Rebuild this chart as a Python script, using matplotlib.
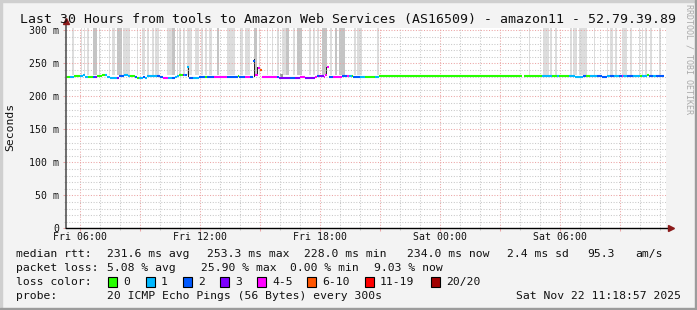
import numpy as np
import matplotlib.pyplot as plt
from matplotlib.patches import Rectangle
from matplotlib.ticker import MultipleLocator, FuncFormatter

plt.rcParams['font.family'] = 'DejaVu Sans Mono'

W, H = 697, 310
title = "Last 30 Hours from tools to Amazon Web Services (AS16509) - amazon11 - 52.79.39.89"

# hours counted from Fri 00:00
t_start = 5.316
t_end = 35.316

loss_labels = ["0", "1", "2", "3", "4-5", "6-10", "11-19", "20/20"]
loss_colors = ["#26ff00", "#00b8ff", "#0059ff", "#7e00ff", "#ff00ff",
               "#ff5500", "#ff0000", "#a10000"]

# median rtt: step start (h), value (ms), loss bucket
med_t = [5.32, 5.52, 5.72, 6.02, 6.18, 6.28, 6.43, 6.68, 6.76, 6.85, 7.10, 7.27,
         7.38, 7.52, 7.88, 7.98, 8.23, 8.43, 8.52, 8.77, 8.85, 8.98, 9.15, 9.27,
         9.35, 9.85, 10.02, 10.18, 10.43, 10.60, 10.77, 10.85, 10.98, 11.15, 11.20,
         11.25, 11.38, 11.48, 11.68, 11.98, 12.05, 12.27, 12.35, 12.72, 13.35, 13.93,
         13.98, 14.27, 14.52, 14.68, 14.77, 14.90, 15.03, 15.12, 15.85, 15.98, 16.52,
         16.77, 17.02, 17.27, 17.77, 17.88, 17.98, 18.22, 18.27, 18.35, 18.47, 18.68,
         19.10, 19.35, 19.48, 19.60, 19.68, 20.02, 20.27, 20.60, 20.77, 20.98, 28.10,
         28.23, 29.10, 29.60, 29.85, 29.98, 30.27, 30.48, 30.60, 30.77, 31.18, 31.32,
         31.52, 31.85, 32.10, 32.35, 32.52, 32.72, 32.98, 33.10, 33.18, 33.38, 33.68,
         34.02, 34.10, 34.35, 34.48, 34.68, 34.82]
med_ms = [230, 230, 231, 231, 233, 230, 230, 230, 230, 231.5, 233, 232,
          230, 227.5, 227.5, 231, 232.5, 231, 231, 230, 228, 228, 230, 228,
          231, 230.5, 229, 228, 228, 228, 228.5, 231, 233, 233, 232,
          232, 244, 227.5, 227.5, 228.5, 229.5, 229.5, 229.5, 228.5, 230, 230.5,
          229, 229, 229, 253.3, 232, 243.5, 240, 229, 228.5, 227.5, 227.5,
          227.5, 228.5, 227.5, 228.5, 230.5, 230.5, 229, 233, 244, 229.5, 229.5,
          231, 231, 231, 231, 228.5, 228.5, 228.5, 229.5, 229.5, 230.5, np.nan,
          230.5, 230.5, 230.5, 230.5, 230.5, 231, 230.5, 231.5, 230, 230.5, 230.5,
          230.5, 231.5, 230, 230.5, 231.5, 231, 231, 231, 231, 231, 231,
          231.5, 231, 233, 231, 231, 231]
med_loss = [0, 1, 0, 1, 1, 1, 0, 2, 3, 0, 0, 1,
            1, 1, 3, 2, 1, 1, 0, 2, 0, 1, 2, 1,
            1, 2, 2, 4, 1, 2, 1, 1, 0, 3, 1,
            2, 1, 2, 1, 2, 2, 0, 2, 4, 2, 0,
            2, 4, 2, 2, 4, 4, 5, 4, 2, 3, 2,
            3, 4, 3, 4, 2, 3, 4, 4, 4, 2, 4,
            2, 4, 1, 0, 2, 1, 0, 0, 1, 0, 0,
            0, 1, 0, 1, 0, 0, 1, 1, 1, 2, 0,
            1, 2, 2, 1, 2, 1, 2, 4, 1, 2, 1,
            0, 1, 0, 2, 1, 2]
med_stop = 35.22

# smoke bands (h): start, end, shade level (0 light, 1 mid)
smoke_start = [5.62, 6.07, 6.22, 6.35, 6.67, 6.98, 7.45, 7.60, 7.85, 8.17, 8.85, 9.10,
               9.35, 9.62, 9.77, 10.35, 10.60, 10.85, 10.98, 11.17, 11.37, 11.77, 12.05,
               12.27, 12.47, 12.85, 13.35, 14.02, 14.27, 14.72, 14.95, 15.35, 15.63, 15.85,
               16.10, 16.30, 16.65, 16.85, 17.48, 17.65, 17.88, 18.10, 18.52, 18.77, 18.98,
               19.73, 19.88, 20.85, 28.47, 29.17, 29.52, 29.77, 30.52, 30.68, 30.98, 31.27,
               31.73, 32.35, 32.52, 32.78, 33.10, 33.52, 33.97, 34.10, 34.28, 34.52, 34.95]
smoke_end = [5.72, 6.12, 6.27, 6.47, 6.85, 7.03, 7.50, 7.77, 8.10, 8.52, 8.90, 9.27,
             9.47, 9.72, 9.97, 10.60, 10.77, 10.90, 11.07, 11.27, 11.62, 11.97, 12.15,
             12.35, 12.60, 12.98, 13.77, 14.15, 14.52, 14.88, 15.02, 15.40, 15.68, 15.97,
             16.30, 16.48, 16.77, 17.10, 17.57, 17.77, 17.98, 18.38, 18.62, 18.88, 19.27,
             19.82, 20.10, 20.95, 28.52, 29.48, 29.60, 29.85, 30.60, 30.85, 31.25, 31.35,
             31.78, 32.43, 32.65, 32.85, 33.35, 33.60, 34.02, 34.15, 34.38, 34.60, 35.08]
smoke_level = [0, 0, 0, 0, 1, 0, 0, 0, 1, 0, 0, 0,
               0, 0, 0, 0, 1, 0, 0, 0, 0, 0, 0,
               0, 0, 1, 0, 0, 0, 1, 0, 0, 0, 0,
               0, 1, 0, 1, 0, 0, 0, 1, 0, 1, 1,
               0, 0, 0, 0, 0, 0, 0, 0, 0, 0, 0,
               0, 0, 0, 0, 0, 0, 0, 0, 0, 0, 0]
smoke_floor = 232
smoke_ceil = 400

# dense smoke around the spikes: start, end, low ms, high ms
dense_start = [11.40, 14.70, 14.88, 15.10, 16.00, 18.30, 18.45]
dense_end = [11.46, 14.76, 14.92, 15.14, 16.17, 18.35, 18.49]
dense_lo = [230, 230, 231, 229, 228, 231, 229]
dense_hi = [244, 256, 244, 241, 234, 245, 244]
dense_col = ["#262626", "#262626", "#262626", "#262626", "#9a9a9a", "#262626", "#262626"]

shade_colors = ["#dddddd", "#c4c4c4"]

legend_rows = [
    [(16, "median rtt:"), (107, "231.6 ms avg"), (207, "253.3 ms max"), (304, "228.0 ms min"),
     (407, "234.0 ms now"), (507, "2.4 ms sd"), (587, "95.3"), (635, "am/s")],
    [(16, "packet loss:"), (107, "5.08 % avg"), (201, "25.90 % max"), (290, "0.00 % min"),
     (374, "9.03 % now")],
]
box_x = [108, 146, 183, 220, 257, 307, 365, 431]
probe_text = "20 ICMP Echo Pings (56 Bytes) every 300s"
stamp = "Sat Nov 22 11:18:57 2025"
fs_leg = 8.2

fig = plt.figure(figsize=(W / 100, H / 100), dpi=100)
fig.patch.set_facecolor("#f3f3f3")


def fx(px):
    return px / W


def fy(py):
    return 1 - py / H


ax = fig.add_axes([fx(66), fy(228.3), 600 / W, 200.3 / H])
ax.set_facecolor("white")
ax.set_xlim(t_start, t_end)
ax.set_ylim(0, 303.5)

for s, e, lv in zip(smoke_start, smoke_end, smoke_level):
    ax.bar(s, smoke_ceil - smoke_floor, width=e - s, bottom=smoke_floor, align="edge",
           color=shade_colors[lv], linewidth=0, zorder=1)
for s, e, lo, hi, c in zip(dense_start, dense_end, dense_lo, dense_hi, dense_col):
    ax.bar(s, hi - lo, width=e - s, bottom=lo, align="edge", color=c, linewidth=0, zorder=1.5)

ends = med_t[1:] + [med_stop]
xs, xe, ys, cs = [], [], [], []
for s, e, v, l in zip(med_t, ends, med_ms, med_loss):
    if np.isnan(v):
        continue
    xs.append(s)
    xe.append(e)
    ys.append(v)
    cs.append(loss_colors[l])
ax.hlines(ys, xs, xe, colors=cs, linewidth=1.5, zorder=3, capstyle="butt")

# grid
ax.xaxis.set_major_locator(MultipleLocator(3))
ax.xaxis.set_minor_locator(MultipleLocator(1))
ax.yaxis.set_major_locator(MultipleLocator(50))
ax.yaxis.set_minor_locator(MultipleLocator(10))
ax.set_axisbelow(False)
ax.grid(which="major", color="#eba4a4", linestyle=(0, (1, 1.6)), linewidth=0.75)
ax.grid(which="minor", color="#c8c8c8", linestyle=(0, (1, 1.6)), linewidth=0.75)


def xlab(v, pos):
    h = int(round(v))
    if h % 6:
        return ""
    day = "Fri" if h < 24 else "Sat"
    return f"{day} {h % 24:02d}:00"


def ylab(v, pos):
    return "0" if v == 0 else f"{int(v)} m"


ax.xaxis.set_major_formatter(FuncFormatter(xlab))
ax.yaxis.set_major_formatter(FuncFormatter(ylab))
ax.tick_params(which="major", length=2.2, width=0.75, color="#eba4a4", labelsize=7.1,
               labelcolor="#111111")
ax.tick_params(which="minor", length=1.5, width=0.75, color="#c8c8c8")
ax.tick_params(axis="x", which="major", pad=0.8)
ax.tick_params(axis="y", which="major", pad=2.5)

for sp in ax.spines.values():
    sp.set_visible(False)
ax.plot([0, 0], [0, 1.035], transform=ax.transAxes, color="#555555", lw=1.2,
        clip_on=False, zorder=5)
ax.plot([0, 1.008], [0, 0], transform=ax.transAxes, color="black", lw=1.0,
        clip_on=False, zorder=5)
ax.plot([0], [1.035], transform=ax.transAxes, marker="^", color="#8b1a1a", ms=5,
        clip_on=False, zorder=6)
ax.plot([1.008], [0], transform=ax.transAxes, marker=">", color="#8b1a1a", ms=5,
        clip_on=False, zorder=6)

fig.text(fx(347.5), fy(20), title, ha="center", va="center", fontsize=9.58, color="#111111")
fig.text(fx(10.5), fy(127), "Seconds", rotation=90, ha="center", va="center",
         fontsize=8.2, color="#111111")
fig.text(fx(688.5), fy(4), "RRDTOOL / TOBI OETIKER", rotation=270, ha="center", va="top",
         fontsize=6.0, color="#aaaaaa")

for row, yy in zip(legend_rows, [254, 268]):
    for x, s in row:
        fig.text(fx(x), fy(yy), s, ha="left", va="center", fontsize=fs_leg, color="#111111")

fig.text(fx(16), fy(282), "loss color:", ha="left", va="center", fontsize=fs_leg, color="#111111")
for x, lab, col in zip(box_x, loss_labels, loss_colors):
    fig.patches.append(Rectangle((fx(x), fy(287)), 9 / W, 10 / H, transform=fig.transFigure,
                                 facecolor=col, edgecolor="black", linewidth=0.8))
    fig.text(fx(x + 15), fy(282), lab, ha="left", va="center", fontsize=fs_leg, color="#111111")

fig.text(fx(16), fy(296), "probe:", ha="left", va="center", fontsize=fs_leg, color="#111111")
fig.text(fx(107), fy(296), probe_text, ha="left", va="center", fontsize=fs_leg, color="#111111")
fig.text(fx(681), fy(296), stamp, ha="right", va="center", fontsize=fs_leg, color="#111111")

# frame
fig.patches.append(Rectangle((0, 0), 2 / W, 1, transform=fig.transFigure, color="#cfcfcf"))
fig.patches.append(Rectangle((0, 1 - 2 / H), 1, 2 / H, transform=fig.transFigure, color="#cfcfcf"))
fig.patches.append(Rectangle((1 - 2 / W, 0), 2 / W, 1, transform=fig.transFigure, color="#9c9c9c"))
fig.patches.append(Rectangle((0, 0), 1, 2 / H, transform=fig.transFigure, color="#9c9c9c"))

fig.savefig("out.png", dpi=100, facecolor=fig.get_facecolor())
